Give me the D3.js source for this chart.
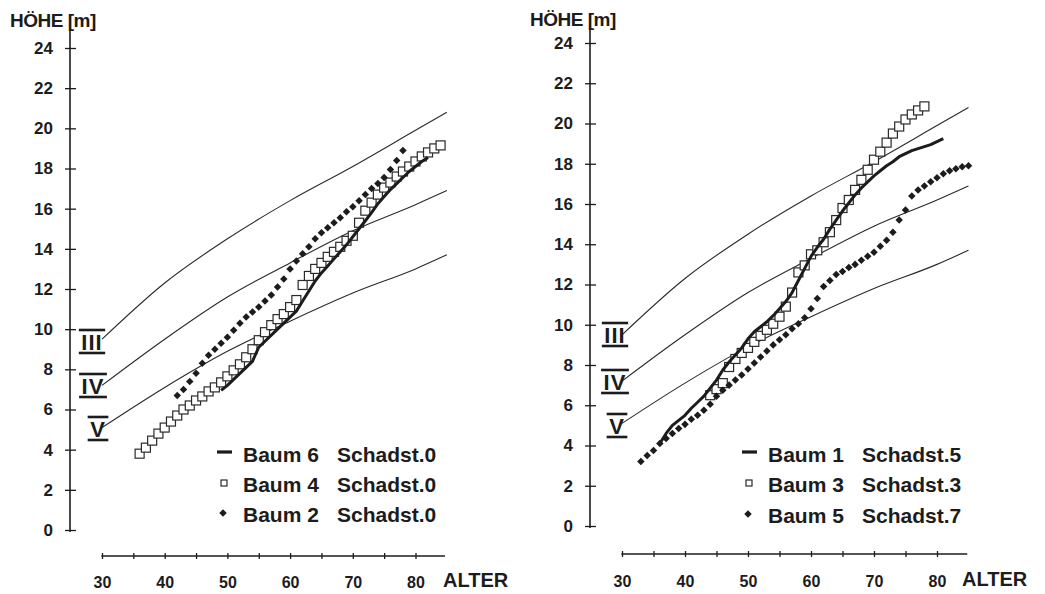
<!DOCTYPE html>
<html>
<head>
<meta charset="utf-8">
<script src="https://cdn.jsdelivr.net/npm/d3@7"></script>
<style>
  body { margin: 0; background: #fff; }
  svg text { font-family: "Liberation Sans", Arial, sans-serif; fill: #1c1c1c; }
</style>
</head>
<body>
<svg id="chart" width="1045" height="594"></svg>
<script>
// axis ticks
const yTicks = [0, 2, 4, 6, 8, 10, 12, 14, 16, 18, 20, 22, 24];
const xTicks = [30, 35, 40, 45, 50, 55, 60, 65, 70, 75, 80];
const xLabels = [30, 40, 50, 60, 70, 80];

// site class curves (Ertragstafel), same in both panels
const classNames = ["III", "IV", "V"];
const curveAges = [30, 40, 50, 60, 70, 80, 85];
const curveIII = [9.5, 12.3, 14.5, 16.4, 18.1, 19.9, 20.8];
const curveIV = [7.2, 9.5, 11.6, 13.3, 14.9, 16.2, 16.9];
const curveV = [5.1, 7.1, 8.9, 10.4, 11.8, 13.0, 13.7];

// left panel, one value per year of age
const baum6Start = 49;
const baum6 = [6.95, 7.2, 7.5, 7.8, 8.1, 8.4, 9.1, 9.4, 9.7, 10.0, 10.3, 10.6, 10.9, 11.4, 11.9, 12.4, 12.8,
  13.15, 13.5, 13.85, 14.2, 14.6, 15.0, 15.4, 15.8, 16.25, 16.6, 16.95, 17.25, 17.55, 17.85, 18.1, 18.35, 18.55];
const baum4Start = 36;
const baum4 = [3.8, 4.1, 4.45, 4.8, 5.1, 5.4, 5.7, 6.0, 6.2, 6.45, 6.65, 6.9, 7.1, 7.35, 7.65, 7.95, 8.25, 8.6,
  9.0, 9.45, 9.85, 10.2, 10.5, 10.75, 11.1, 11.45, 12.2, 12.65, 13.0, 13.3, 13.6, 13.85, 14.1, 14.4, 14.65,
  15.3, 15.9, 16.3, 16.7, 17.05, 17.3, 17.6, 17.85, 18.1, 18.35, 18.6, 18.8, 19.0, 19.15];
const baum2Start = 42;
const baum2 = [6.7, 7.0, 7.4, 7.8, 8.3, 8.7, 9.0, 9.3, 9.6, 9.95, 10.3, 10.6, 10.85, 11.1, 11.4, 11.7, 12.1,
  12.5, 13.0, 13.4, 13.75, 14.1, 14.5, 14.8, 15.05, 15.3, 15.55, 15.85, 16.1, 16.4, 16.7, 17.0, 17.25, 17.55,
  17.95, 18.4, 18.9];

// right panel
const baum1Start = 36;
const baum1 = [4.1, 4.6, 5.0, 5.25, 5.5, 5.85, 6.15, 6.45, 6.85, 7.25, 7.75, 8.15, 8.5, 8.85, 9.3, 9.65, 9.9,
  10.15, 10.45, 10.8, 11.15, 11.6, 12.2, 12.8, 13.4, 13.85, 14.25, 14.75, 15.2, 15.65, 16.05, 16.45, 16.8,
  17.1, 17.4, 17.65, 17.9, 18.1, 18.35, 18.5, 18.65, 18.75, 18.85, 18.95, 19.1, 19.25];
const baum3Start = 44;
const baum3 = [6.5, 6.8, 7.1, 7.9, 8.3, 8.6, 8.85, 9.15, 9.45, 9.75, 10.05, 10.4, 10.9, 11.6, 12.6, 12.95,
  13.5, 13.7, 14.1, 14.6, 15.2, 15.8, 16.2, 16.7, 17.2, 17.7, 18.2, 18.6, 19.05, 19.5, 19.85, 20.2, 20.45,
  20.65, 20.85];
const baum5Start = 33;
const baum5 = [3.2, 3.5, 3.75, 4.1, 4.35, 4.6, 4.85, 5.05, 5.3, 5.5, 5.75, 6.05, 6.45, 6.75, 7.0, 7.25, 7.5,
  7.8, 8.1, 8.4, 8.7, 9.0, 9.25, 9.5, 9.8, 10.05, 10.35, 10.8, 11.3, 11.9, 12.2, 12.5, 12.65, 12.85, 13.0,
  13.2, 13.4, 13.6, 13.9, 14.2, 14.6, 15.2, 15.7, 16.4, 16.7, 16.9, 17.1, 17.3, 17.5, 17.65, 17.75, 17.85, 17.9];

const ink = "#1c1c1c";

function toPoints(start, values) {
  return values.map(function(h, i) { return {age: start + i, h: h}; });
}

var panels = [
  {
    x: [102, 415.5], y: [530, 48], yAxisX: 70, xAxisY: 556, xAxisEnd: 84.7, textY: 588,
    hoehe: [10, 27], alter: [443, 587],
    classLabels: [{x: 92, base: 350}, {x: 93, base: 394}, {x: 98, base: 437}],
    legendX: 217, legendY: [462, 492, 522],
    line: {start: baum6Start, values: baum6, label: ["Baum 6", "Schadst.0"]},
    squares: {start: baum4Start, values: baum4, label: ["Baum 4", "Schadst.0"]},
    diamonds: {start: baum2Start, values: baum2, label: ["Baum 2", "Schadst.0"]}
  },
  {
    x: [622, 937], y: [526, 43], yAxisX: 590, xAxisY: 554, xAxisEnd: 84.8, textY: 587,
    hoehe: [530, 26], alter: [962, 586],
    classLabels: [{x: 615, base: 343}, {x: 615, base: 390}, {x: 617, base: 434}],
    legendX: 742, legendY: [462, 492, 523],
    line: {start: baum1Start, values: baum1, label: ["Baum 1", "Schadst.5"]},
    squares: {start: baum3Start, values: baum3, label: ["Baum 3", "Schadst.3"]},
    diamonds: {start: baum5Start, values: baum5, label: ["Baum 5", "Schadst.7"]}
  }
];

var svg = d3.select("#chart");

panels.forEach(function(p) {
  var g = svg.append("g");

  var xScale = d3.scaleLinear().domain([30, 80]).range(p.x);
  var yScale = d3.scaleLinear().domain([0, 24]).range(p.y);

  // y axis
  var yAxis = g.append("g")
      .attr("transform", "translate(" + p.yAxisX + ",0)")
      .call(d3.axisLeft(yScale).tickValues(yTicks).tickSize(5).tickPadding(12));
  yAxis.select(".domain").remove();
  yAxis.selectAll(".tick line").attr("x1", -5).attr("x2", 6).attr("stroke", ink).attr("stroke-width", 1.3);
  yAxis.selectAll(".tick text")
      .attr("fill", ink)
      .style("font-size", "17px")
      .style("font-weight", "bold");
  yAxis.append("line")
      .attr("y1", yScale(25))
      .attr("y2", yScale(-0.1))
      .attr("stroke", ink)
      .attr("stroke-width", 1.6);

  // x axis (detached, below the plot)
  var xAxis = g.append("g")
      .attr("transform", "translate(0," + p.xAxisY + ")")
      .call(d3.axisBottom(xScale).tickValues(xTicks).tickSize(3)
        .tickFormat(function(d) { return xLabels.indexOf(d) >= 0 ? d : ""; }));
  xAxis.select(".domain").remove();
  xAxis.selectAll(".tick line").attr("y1", -3).attr("y2", 3).attr("stroke", ink).attr("stroke-width", 1.3);
  xAxis.selectAll(".tick text")
      .attr("y", p.textY - p.xAxisY)
      .attr("dy", null)
      .attr("fill", ink)
      .style("font-size", "16px")
      .style("font-weight", "bold");
  xAxis.append("line")
      .attr("x1", xScale(29.9))
      .attr("x2", xScale(p.xAxisEnd))
      .attr("stroke", ink)
      .attr("stroke-width", 1.3);

  g.append("text")
      .attr("x", p.hoehe[0])
      .attr("y", p.hoehe[1])
      .style("font-size", "19px")
      .style("font-weight", "bold")
      .style("letter-spacing", "-0.5px")
      .text("HÖHE [m]");

  g.append("text")
      .attr("x", p.alter[0])
      .attr("y", p.alter[1])
      .style("font-size", "20px")
      .style("font-weight", "bold")
      .text("ALTER");

  // site class curves
  var curveLine = d3.line()
      .x(function(d) { return xScale(d.age); })
      .y(function(d) { return yScale(d.h); })
      .curve(d3.curveMonotoneX);

  [curveIII, curveIV, curveV].forEach(function(c, i) {
    var pts = curveAges.map(function(a, j) { return {age: a, h: c[j]}; });
    g.append("path")
        .datum(pts)
        .attr("d", curveLine)
        .attr("fill", "none")
        .attr("stroke", "#2a2a2a")
        .attr("stroke-width", 1.1);

    var lab = p.classLabels[i];
    var t = g.append("text")
        .attr("x", lab.x)
        .attr("y", lab.base)
        .attr("text-anchor", "middle")
        .style("font-size", "22px")
        .style("font-weight", "bold")
        .style("letter-spacing", "1px")
        .text(classNames[i]);
    var w = t.node().getComputedTextLength() + 5;
    [lab.base - 20, lab.base + 3].forEach(function(yy) {
      g.append("line")
          .attr("x1", lab.x - w / 2)
          .attr("x2", lab.x + w / 2)
          .attr("y1", yy)
          .attr("y2", yy)
          .attr("stroke", ink)
          .attr("stroke-width", 2.6);
    });
  });

  // open squares (white filled, later ones cover earlier ones)
  g.selectAll(".sq")
      .data(toPoints(p.squares.start, p.squares.values))
      .enter().append("rect")
      .attr("class", "sq")
      .attr("x", function(d) { return xScale(d.age) - 4.5; })
      .attr("y", function(d) { return yScale(d.h) - 4.5; })
      .attr("width", 9)
      .attr("height", 9)
      .attr("fill", "#fff")
      .attr("stroke", "#2a2a2a")
      .attr("stroke-width", 1.2);

  // filled diamonds
  var diamond = d3.symbol().type(d3.symbolDiamond2).size(36);
  g.selectAll(".dm")
      .data(toPoints(p.diamonds.start, p.diamonds.values))
      .enter().append("path")
      .attr("class", "dm")
      .attr("transform", function(d) { return "translate(" + xScale(d.age) + "," + yScale(d.h) + ")"; })
      .attr("d", diamond)
      .attr("fill", ink);

  // thick line
  g.append("path")
      .datum(toPoints(p.line.start, p.line.values))
      .attr("d", d3.line()
        .x(function(d) { return xScale(d.age); })
        .y(function(d) { return yScale(d.h); }))
      .attr("fill", "none")
      .attr("stroke", ink)
      .attr("stroke-width", 3)
      .attr("stroke-linejoin", "round");

  // legend
  var lx = p.legendX;
  g.append("line")
      .attr("x1", lx).attr("x2", lx + 15)
      .attr("y1", p.legendY[0] - 10).attr("y2", p.legendY[0] - 10)
      .attr("stroke", ink)
      .attr("stroke-width", 3.2);
  g.append("rect")
      .attr("x", lx + 4).attr("y", p.legendY[1] - 12)
      .attr("width", 6).attr("height", 6)
      .attr("fill", "#fff")
      .attr("stroke", "#2a2a2a")
      .attr("stroke-width", 1.2);
  g.append("path")
      .attr("transform", "translate(" + (lx + 6) + "," + (p.legendY[2] - 9) + ")")
      .attr("d", diamond)
      .attr("fill", ink);

  [p.line, p.squares, p.diamonds].forEach(function(s, i) {
    g.append("text")
        .attr("x", lx + 26)
        .attr("y", p.legendY[i])
        .style("font-size", "21px")
        .style("font-weight", "bold")
        .text(s.label[0]);
    g.append("text")
        .attr("x", lx + 120)
        .attr("y", p.legendY[i])
        .style("font-size", "21px")
        .style("font-weight", "bold")
        .text(s.label[1]);
  });
});
</script>
</body>
</html>
